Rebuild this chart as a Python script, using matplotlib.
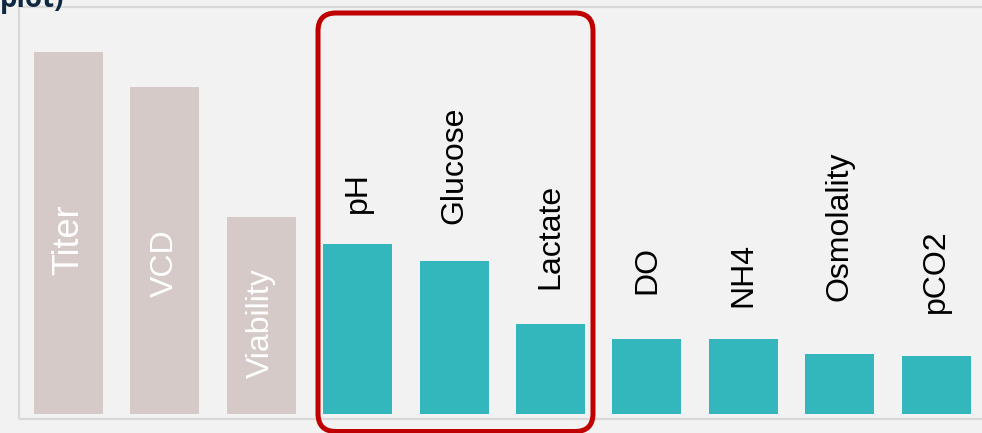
# Python3
# Bar chart of process parameters, highlighted group in a red rounded box

import numpy as np
import matplotlib
matplotlib.use('Agg')
import matplotlib.pyplot as plt
from matplotlib.patches import Rectangle, FancyBboxPatch
from matplotlib.transforms import Affine2D

#*******************************************************************************
#                                  D A T A                                     *
#*******************************************************************************
categories = ['Titer', 'VCD', 'Viability', 'pH', 'Glucose', 'Lactate',
              'DO', 'NH4', 'Osmolality', 'pCO2']
values = [100.0, 90.3, 54.4, 47.0, 42.3, 24.9, 20.7, 20.7, 16.6, 16.0]
group = ['out', 'out', 'out', 'in', 'in', 'in', 'in', 'in', 'in', 'in']

# label placement (layout only): pixels from bar top (in) or from baseline (out)
label_gap_px = [139, 117, 36, 31, 37, 35, 45, 32, 53, 43]
label_size = [26, 23, 23, 23, 23, 23, 23, 23, 23, 23]

#*******************************************************************************
#                                F I G U R E                                   *
#*******************************************************************************
W, H = 982, 433
bg = '#f2f2f2'
col_out = '#d5cac7'
col_in = '#33b7bc'

plt.rcParams['font.family'] = ['Liberation Sans', 'DejaVu Sans']

fig = plt.figure(figsize=(W / 100, H / 100), dpi=100, facecolor=bg)
px = Affine2D().scale(1 / 100) + fig.dpi_scale_trans   # pixel coords, origin bottom-left

base_px = 413.7          # baseline y (from top)
top_val_px = 362.0       # height in px of a 100-unit bar
ax = fig.add_axes([0, (H - base_px) / H, 1, base_px / H])
ax.set_facecolor('none')
step = 96.4
x0 = 68.5
ax.set_xlim(-x0 / step, -x0 / step + W / step)
ax.set_ylim(0, 100 * base_px / top_val_px)
ax.axis('off')

x = np.arange(len(categories))
colors = [col_out if g == 'out' else col_in for g in group]
ax.bar(x, values, width=69 / step, color=colors, zorder=2)

for i, lab in enumerate(categories):
    if group[i] == 'out':
        ax.annotate(lab, xy=(x[i], 0), xytext=(0, label_gap_px[i] * 0.72),
                    textcoords='offset points', rotation=90, ha='center', va='bottom',
                    fontsize=label_size[i], color='white', zorder=3)
    else:
        ax.annotate(lab, xy=(x[i], values[i]), xytext=(0, label_gap_px[i] * 0.72),
                    textcoords='offset points', rotation=90, ha='center', va='bottom',
                    fontsize=label_size[i], color='black', zorder=3)

# light frame of the plot area (right side runs off the picture)
fig.patches.append(Rectangle((19, H - 419), 1200, 412, transform=px,
                             facecolor='none', edgecolor='#d9d9d9', linewidth=1.6,
                             zorder=0))

# red rounded box round pH / Glucose / Lactate (bottom runs to the picture edge)
fig.patches.append(FancyBboxPatch((318, H - 431.5), 275, 418.5,
                                  boxstyle='round,pad=0,rounding_size=18',
                                  transform=px, facecolor='none',
                                  edgecolor='#c00000', linewidth=3.6, zorder=5))

# clipped title remnant at top-left
fig.text(0, 1 - 7.5 / H, 'plot)', fontsize=20, fontweight='bold', color='#0e2841',
         family=['Open Sans', 'DejaVu Sans'], ha='left', va='baseline')

fig.savefig('out.png', dpi=100, facecolor=bg)
plt.close('all')
